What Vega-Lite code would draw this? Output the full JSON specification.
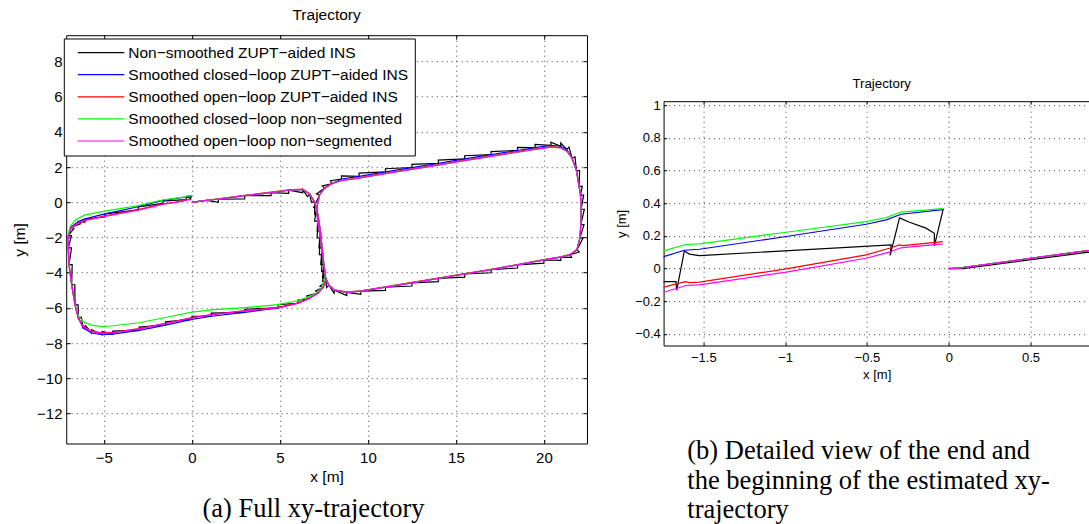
{
"$schema":"https://vega.github.io/schema/vega-lite/v6.json",
"padding":{"left":11.2,"top":7.2,"right":0,"bottom":0},
"spacing":27.4,
"datasets":{
"names":[
{"s":"k","name":"Non−smoothed ZUPT−aided INS"},
{"s":"b","name":"Smoothed closed−loop ZUPT−aided INS"},
{"s":"r","name":"Smoothed open−loop ZUPT−aided INS"},
{"s":"g","name":"Smoothed closed−loop non−segmented"},
{"s":"m","name":"Smoothed open−loop non−segmented"}],
"traj":[
{"s":"k","i":0,"x":0,"y":0},{"s":"k","i":1,"x":0.086,"y":0},{"s":"k","i":2,"x":0.854,"y":0.1},{"s":"k","i":3,"x":1.5,"y":-0.01},{"s":"k","i":4,"x":1.5,"y":0.17},{"s":"k","i":5,"x":3.0,"y":0.19},{"s":"k","i":6,"x":3.0,"y":0.37},{"s":"k","i":7,"x":4.5,"y":0.37},{"s":"k","i":8,"x":4.5,"y":0.55},{"s":"k","i":9,"x":5.5,"y":0.5},{"s":"k","i":10,"x":5.5,"y":0.68},{"s":"k","i":11,"x":6.3,"y":0.54},{"s":"k","i":12,"x":6.3,"y":0.72},{"s":"k","i":13,"x":6.57,"y":0.32},{"s":"k","i":14,"x":6.7,"y":0.45},{"s":"k","i":15,"x":6.79,"y":0},{"s":"k","i":16,"x":6.97,"y":0},{"s":"k","i":17,"x":6.98,"y":-0.7},{"s":"k","i":18,"x":7.16,"y":-0.7},{"s":"k","i":19,"x":7.12,"y":-1.65},{"s":"k","i":20,"x":7.3,"y":-1.65},{"s":"k","i":21,"x":7.22,"y":-2.6},{"s":"k","i":22,"x":7.4,"y":-2.6},{"s":"k","i":23,"x":7.32,"y":-3.55},{"s":"k","i":24,"x":7.5,"y":-3.55},{"s":"k","i":25,"x":7.42,"y":-4.3},{"s":"k","i":26,"x":7.6,"y":-4.3},{"s":"k","i":27,"x":7.65,"y":-4.85},{"s":"k","i":28,"x":7.78,"y":-4.72},{"s":"k","i":29,"x":8.08,"y":-5.18},{"s":"k","i":30,"x":8.1,"y":-5.0},{"s":"k","i":31,"x":8.8,"y":-5.3},{"s":"k","i":32,"x":8.8,"y":-5.12},{"s":"k","i":33,"x":9.6,"y":-5.23},{"s":"k","i":34,"x":9.6,"y":-5.05},{"s":"k","i":35,"x":11,"y":-5.01},{"s":"k","i":36,"x":11,"y":-4.83},{"s":"k","i":37,"x":12.5,"y":-4.76},{"s":"k","i":38,"x":12.5,"y":-4.58},{"s":"k","i":39,"x":14,"y":-4.51},{"s":"k","i":40,"x":14,"y":-4.33},{"s":"k","i":41,"x":15.5,"y":-4.26},{"s":"k","i":42,"x":15.5,"y":-4.08},{"s":"k","i":43,"x":17,"y":-4.01},{"s":"k","i":44,"x":17,"y":-3.83},{"s":"k","i":45,"x":18.5,"y":-3.74},{"s":"k","i":46,"x":18.5,"y":-3.56},{"s":"k","i":47,"x":20,"y":-3.46},{"s":"k","i":48,"x":20,"y":-3.28},{"s":"k","i":49,"x":20.96,"y":-3.3},{"s":"k","i":50,"x":20.96,"y":-3.12},{"s":"k","i":51,"x":21.57,"y":-3.14},{"s":"k","i":52,"x":21.5,"y":-2.98},{"s":"k","i":53,"x":22.01,"y":-2.83},{"s":"k","i":54,"x":21.88,"y":-2.7},{"s":"k","i":55,"x":22.23,"y":-2.03},{"s":"k","i":56,"x":22.05,"y":-2.03},{"s":"k","i":57,"x":22.28,"y":-1.27},{"s":"k","i":58,"x":22.1,"y":-1.27},{"s":"k","i":59,"x":22.3,"y":-0.4},{"s":"k","i":60,"x":22.12,"y":-0.4},{"s":"k","i":61,"x":22.26,"y":0.4},{"s":"k","i":62,"x":22.08,"y":0.4},{"s":"k","i":63,"x":22.18,"y":0.9},{"s":"k","i":64,"x":22.0,"y":0.9},{"s":"k","i":65,"x":22.03,"y":1.8},{"s":"k","i":66,"x":21.85,"y":1.8},{"s":"k","i":67,"x":21.77,"y":2.57},{"s":"k","i":68,"x":21.6,"y":2.5},{"s":"k","i":69,"x":21.43,"y":3.13},{"s":"k","i":70,"x":21.3,"y":3.0},{"s":"k","i":71,"x":20.96,"y":3.36},{"s":"k","i":72,"x":20.96,"y":3.18},{"s":"k","i":73,"x":20.4,"y":3.41},{"s":"k","i":74,"x":20.4,"y":3.23},{"s":"k","i":75,"x":19.5,"y":3.28},{"s":"k","i":76,"x":19.5,"y":3.1},{"s":"k","i":77,"x":18.5,"y":3.12},{"s":"k","i":78,"x":18.5,"y":2.94},{"s":"k","i":79,"x":17,"y":2.88},{"s":"k","i":80,"x":17,"y":2.7},{"s":"k","i":81,"x":15.5,"y":2.64},{"s":"k","i":82,"x":15.5,"y":2.46},{"s":"k","i":83,"x":14,"y":2.39},{"s":"k","i":84,"x":14,"y":2.21},{"s":"k","i":85,"x":12.5,"y":2.15},{"s":"k","i":86,"x":12.5,"y":1.97},{"s":"k","i":87,"x":11,"y":1.9},{"s":"k","i":88,"x":11,"y":1.72},{"s":"k","i":89,"x":9.5,"y":1.65},{"s":"k","i":90,"x":9.5,"y":1.47},{"s":"k","i":91,"x":8.5,"y":1.5},{"s":"k","i":92,"x":8.5,"y":1.32},{"s":"k","i":93,"x":7.88,"y":1.22},{"s":"k","i":94,"x":7.95,"y":1.05},{"s":"k","i":95,"x":7.41,"y":0.93},{"s":"k","i":96,"x":7.54,"y":0.8},{"s":"k","i":97,"x":7.08,"y":0.47},{"s":"k","i":98,"x":7.25,"y":0.4},{"s":"k","i":99,"x":6.92,"y":-0.3},{"s":"k","i":100,"x":7.1,"y":-0.3},{"s":"k","i":101,"x":6.97,"y":-1.08},{"s":"k","i":102,"x":7.15,"y":-1.08},{"s":"k","i":103,"x":7.12,"y":-2.03},{"s":"k","i":104,"x":7.3,"y":-2.03},{"s":"k","i":105,"x":7.24,"y":-2.98},{"s":"k","i":106,"x":7.42,"y":-2.98},{"s":"k","i":107,"x":7.37,"y":-3.93},{"s":"k","i":108,"x":7.55,"y":-3.93},{"s":"k","i":109,"x":7.42,"y":-4.5},{"s":"k","i":110,"x":7.6,"y":-4.5},{"s":"k","i":111,"x":7.28,"y":-4.78},{"s":"k","i":112,"x":7.45,"y":-4.85},{"s":"k","i":113,"x":7.03,"y":-5.04},{"s":"k","i":114,"x":7.16,"y":-5.17},{"s":"k","i":115,"x":6.53,"y":-5.33},{"s":"k","i":116,"x":6.6,"y":-5.5},{"s":"k","i":117,"x":6.03,"y":-5.56},{"s":"k","i":118,"x":6.03,"y":-5.74},{"s":"k","i":119,"x":4.9,"y":-5.82},{"s":"k","i":120,"x":4.9,"y":-6.0},{"s":"k","i":121,"x":3.0,"y":-6.08},{"s":"k","i":122,"x":3.0,"y":-6.26},{"s":"k","i":123,"x":1.1,"y":-6.3},{"s":"k","i":124,"x":1.1,"y":-6.48},{"s":"k","i":125,"x":0,"y":-6.48},{"s":"k","i":126,"x":0,"y":-6.66},{"s":"k","i":127,"x":-1.5,"y":-6.8},{"s":"k","i":128,"x":-1.5,"y":-6.98},{"s":"k","i":129,"x":-3.0,"y":-7.1},{"s":"k","i":130,"x":-3.0,"y":-7.28},{"s":"k","i":131,"x":-4.5,"y":-7.32},{"s":"k","i":132,"x":-4.5,"y":-7.5},{"s":"k","i":133,"x":-5.1,"y":-7.35},{"s":"k","i":134,"x":-5.1,"y":-7.53},{"s":"k","i":135,"x":-5.7,"y":-7.25},{"s":"k","i":136,"x":-5.7,"y":-7.43},{"s":"k","i":137,"x":-6.04,"y":-7.02},{"s":"k","i":138,"x":-6.17,"y":-7.15},{"s":"k","i":139,"x":-6.28,"y":-6.53},{"s":"k","i":140,"x":-6.45,"y":-6.6},{"s":"k","i":141,"x":-6.46,"y":-5.83},{"s":"k","i":142,"x":-6.64,"y":-5.83},{"s":"k","i":143,"x":-6.65,"y":-4.69},{"s":"k","i":144,"x":-6.83,"y":-4.69},{"s":"k","i":145,"x":-6.8,"y":-3.55},{"s":"k","i":146,"x":-6.98,"y":-3.55},{"s":"k","i":147,"x":-6.84,"y":-2.6},{"s":"k","i":148,"x":-7.02,"y":-2.6},{"s":"k","i":149,"x":-6.84,"y":-1.9},{"s":"k","i":150,"x":-7.02,"y":-1.9},{"s":"k","i":151,"x":-6.7,"y":-1.49},{"s":"k","i":152,"x":-6.87,"y":-1.42},{"s":"k","i":153,"x":-6.32,"y":-1.23},{"s":"k","i":154,"x":-6.45,"y":-1.1},{"s":"k","i":155,"x":-6.07,"y":-1.13},{"s":"k","i":156,"x":-6.07,"y":-0.95},{"s":"k","i":157,"x":-4.94,"y":-0.84},{"s":"k","i":158,"x":-4.94,"y":-0.66},{"s":"k","i":159,"x":-3.05,"y":-0.44},{"s":"k","i":160,"x":-3.05,"y":-0.26},{"s":"k","i":161,"x":-1.742,"y":-0.08},{"s":"k","i":162,"x":-1.667,"y":-0.08},{"s":"k","i":163,"x":-1.663,"y":-0.133},{"s":"k","i":164,"x":-1.616,"y":0.108},{"s":"k","i":165,"x":-1.585,"y":0.088},{"s":"k","i":166,"x":-1.524,"y":0.079},{"s":"k","i":167,"x":-0.352,"y":0.145},{"s":"k","i":168,"x":-0.358,"y":0.08},{"s":"k","i":169,"x":-0.301,"y":0.31},{"s":"k","i":170,"x":-0.24,"y":0.283},{"s":"k","i":171,"x":-0.139,"y":0.247},{"s":"k","i":172,"x":-0.088,"y":0.216},{"s":"k","i":173,"x":-0.088,"y":0.139},{"s":"k","i":174,"x":-0.033,"y":0.367},
{"s":"b","i":0,"x":0,"y":0},{"s":"b","i":1,"x":0.086,"y":0.006},{"s":"b","i":2,"x":0.85,"y":0.11},{"s":"b","i":3,"x":1.5,"y":0.17},{"s":"b","i":4,"x":3.0,"y":0.37},{"s":"b","i":5,"x":4.5,"y":0.55},{"s":"b","i":6,"x":5.5,"y":0.68},{"s":"b","i":7,"x":6.3,"y":0.72},{"s":"b","i":8,"x":6.7,"y":0.45},{"s":"b","i":9,"x":6.97,"y":0},{"s":"b","i":10,"x":7.16,"y":-0.7},{"s":"b","i":11,"x":7.3,"y":-1.65},{"s":"b","i":12,"x":7.4,"y":-2.6},{"s":"b","i":13,"x":7.5,"y":-3.55},{"s":"b","i":14,"x":7.6,"y":-4.3},{"s":"b","i":15,"x":7.78,"y":-4.72},{"s":"b","i":16,"x":8.1,"y":-5.0},{"s":"b","i":17,"x":8.8,"y":-5.12},{"s":"b","i":18,"x":9.6,"y":-5.05},{"s":"b","i":19,"x":11,"y":-4.83},{"s":"b","i":20,"x":12.5,"y":-4.58},{"s":"b","i":21,"x":14,"y":-4.33},{"s":"b","i":22,"x":15.5,"y":-4.08},{"s":"b","i":23,"x":17,"y":-3.83},{"s":"b","i":24,"x":18.5,"y":-3.56},{"s":"b","i":25,"x":20,"y":-3.28},{"s":"b","i":26,"x":20.96,"y":-3.12},{"s":"b","i":27,"x":21.5,"y":-2.98},{"s":"b","i":28,"x":21.88,"y":-2.7},{"s":"b","i":29,"x":22.05,"y":-2.03},{"s":"b","i":30,"x":22.1,"y":-1.27},{"s":"b","i":31,"x":22.12,"y":-0.4},{"s":"b","i":32,"x":22.08,"y":0.4},{"s":"b","i":33,"x":22.0,"y":0.9},{"s":"b","i":34,"x":21.85,"y":1.8},{"s":"b","i":35,"x":21.6,"y":2.5},{"s":"b","i":36,"x":21.3,"y":3.0},{"s":"b","i":37,"x":20.96,"y":3.18},{"s":"b","i":38,"x":20.4,"y":3.23},{"s":"b","i":39,"x":19.5,"y":3.1},{"s":"b","i":40,"x":18.5,"y":2.94},{"s":"b","i":41,"x":17,"y":2.7},{"s":"b","i":42,"x":15.5,"y":2.46},{"s":"b","i":43,"x":14,"y":2.21},{"s":"b","i":44,"x":12.5,"y":1.97},{"s":"b","i":45,"x":11,"y":1.72},{"s":"b","i":46,"x":9.5,"y":1.47},{"s":"b","i":47,"x":8.5,"y":1.32},{"s":"b","i":48,"x":7.95,"y":1.05},{"s":"b","i":49,"x":7.54,"y":0.8},{"s":"b","i":50,"x":7.25,"y":0.4},{"s":"b","i":51,"x":7.1,"y":-0.3},{"s":"b","i":52,"x":7.15,"y":-1.08},{"s":"b","i":53,"x":7.3,"y":-2.03},{"s":"b","i":54,"x":7.42,"y":-2.98},{"s":"b","i":55,"x":7.55,"y":-3.93},{"s":"b","i":56,"x":7.6,"y":-4.5},{"s":"b","i":57,"x":7.45,"y":-4.85},{"s":"b","i":58,"x":7.16,"y":-5.17},{"s":"b","i":59,"x":6.6,"y":-5.5},{"s":"b","i":60,"x":6.03,"y":-5.74},{"s":"b","i":61,"x":4.9,"y":-6.0},{"s":"b","i":62,"x":3.0,"y":-6.26},{"s":"b","i":63,"x":1.1,"y":-6.48},{"s":"b","i":64,"x":0,"y":-6.66},{"s":"b","i":65,"x":-1.5,"y":-6.98},{"s":"b","i":66,"x":-3.0,"y":-7.28},{"s":"b","i":67,"x":-4.5,"y":-7.5},{"s":"b","i":68,"x":-5.1,"y":-7.53},{"s":"b","i":69,"x":-5.7,"y":-7.43},{"s":"b","i":70,"x":-6.17,"y":-7.15},{"s":"b","i":71,"x":-6.45,"y":-6.6},{"s":"b","i":72,"x":-6.64,"y":-5.83},{"s":"b","i":73,"x":-6.83,"y":-4.69},{"s":"b","i":74,"x":-6.98,"y":-3.55},{"s":"b","i":75,"x":-7.02,"y":-2.6},{"s":"b","i":76,"x":-7.02,"y":-1.9},{"s":"b","i":77,"x":-6.87,"y":-1.42},{"s":"b","i":78,"x":-6.45,"y":-1.1},{"s":"b","i":79,"x":-6.07,"y":-0.95},{"s":"b","i":80,"x":-4.94,"y":-0.66},{"s":"b","i":81,"x":-3.05,"y":-0.26},{"s":"b","i":82,"x":-1.9,"y":0.04},{"s":"b","i":83,"x":-1.742,"y":0.073},{"s":"b","i":84,"x":-1.616,"y":0.112},{"s":"b","i":85,"x":-1.524,"y":0.118},{"s":"b","i":86,"x":-0.994,"y":0.196},{"s":"b","i":87,"x":-0.505,"y":0.271},{"s":"b","i":88,"x":-0.383,"y":0.298},{"s":"b","i":89,"x":-0.291,"y":0.332},{"s":"b","i":90,"x":-0.037,"y":0.361},
{"s":"r","i":0,"x":0,"y":0},{"s":"r","i":1,"x":0.086,"y":0.006},{"s":"r","i":2,"x":0.85,"y":0.11},{"s":"r","i":3,"x":1.5,"y":0.19},{"s":"r","i":4,"x":3.0,"y":0.39},{"s":"r","i":5,"x":4.5,"y":0.57},{"s":"r","i":6,"x":5.5,"y":0.7},{"s":"r","i":7,"x":6.3,"y":0.74},{"s":"r","i":8,"x":6.7,"y":0.47},{"s":"r","i":9,"x":6.97,"y":0.02},{"s":"r","i":10,"x":7.16,"y":-0.68},{"s":"r","i":11,"x":7.3,"y":-1.63},{"s":"r","i":12,"x":7.4,"y":-2.58},{"s":"r","i":13,"x":7.5,"y":-3.53},{"s":"r","i":14,"x":7.6,"y":-4.28},{"s":"r","i":15,"x":7.78,"y":-4.7},{"s":"r","i":16,"x":8.1,"y":-4.98},{"s":"r","i":17,"x":8.8,"y":-5.1},{"s":"r","i":18,"x":9.6,"y":-5.03},{"s":"r","i":19,"x":11,"y":-4.81},{"s":"r","i":20,"x":12.5,"y":-4.56},{"s":"r","i":21,"x":14,"y":-4.31},{"s":"r","i":22,"x":15.5,"y":-4.06},{"s":"r","i":23,"x":17,"y":-3.81},{"s":"r","i":24,"x":18.5,"y":-3.54},{"s":"r","i":25,"x":20,"y":-3.26},{"s":"r","i":26,"x":20.96,"y":-3.1},{"s":"r","i":27,"x":21.5,"y":-2.96},{"s":"r","i":28,"x":21.88,"y":-2.68},{"s":"r","i":29,"x":22.05,"y":-2.01},{"s":"r","i":30,"x":22.1,"y":-1.25},{"s":"r","i":31,"x":22.12,"y":-0.38},{"s":"r","i":32,"x":22.08,"y":0.42},{"s":"r","i":33,"x":22.0,"y":0.92},{"s":"r","i":34,"x":21.85,"y":1.82},{"s":"r","i":35,"x":21.6,"y":2.52},{"s":"r","i":36,"x":21.3,"y":2.93},{"s":"r","i":37,"x":20.96,"y":3.11},{"s":"r","i":38,"x":20.4,"y":3.16},{"s":"r","i":39,"x":19.5,"y":3.03},{"s":"r","i":40,"x":18.5,"y":2.87},{"s":"r","i":41,"x":17,"y":2.63},{"s":"r","i":42,"x":15.5,"y":2.39},{"s":"r","i":43,"x":14,"y":2.14},{"s":"r","i":44,"x":12.5,"y":1.9},{"s":"r","i":45,"x":11,"y":1.65},{"s":"r","i":46,"x":9.5,"y":1.4},{"s":"r","i":47,"x":8.5,"y":1.25},{"s":"r","i":48,"x":7.95,"y":1.07},{"s":"r","i":49,"x":7.54,"y":0.82},{"s":"r","i":50,"x":7.25,"y":0.42},{"s":"r","i":51,"x":7.1,"y":-0.28},{"s":"r","i":52,"x":7.15,"y":-1.06},{"s":"r","i":53,"x":7.3,"y":-2.01},{"s":"r","i":54,"x":7.42,"y":-2.96},{"s":"r","i":55,"x":7.55,"y":-3.91},{"s":"r","i":56,"x":7.6,"y":-4.48},{"s":"r","i":57,"x":7.45,"y":-4.83},{"s":"r","i":58,"x":7.16,"y":-5.15},{"s":"r","i":59,"x":6.6,"y":-5.48},{"s":"r","i":60,"x":6.03,"y":-5.72},{"s":"r","i":61,"x":4.9,"y":-5.98},{"s":"r","i":62,"x":3.0,"y":-6.16},{"s":"r","i":63,"x":1.1,"y":-6.38},{"s":"r","i":64,"x":0,"y":-6.56},{"s":"r","i":65,"x":-1.5,"y":-6.88},{"s":"r","i":66,"x":-3.0,"y":-7.18},{"s":"r","i":67,"x":-4.5,"y":-7.4},{"s":"r","i":68,"x":-5.1,"y":-7.43},{"s":"r","i":69,"x":-5.7,"y":-7.33},{"s":"r","i":70,"x":-6.17,"y":-7.05},{"s":"r","i":71,"x":-6.45,"y":-6.58},{"s":"r","i":72,"x":-6.64,"y":-5.81},{"s":"r","i":73,"x":-6.83,"y":-4.67},{"s":"r","i":74,"x":-6.98,"y":-3.53},{"s":"r","i":75,"x":-7.02,"y":-2.58},{"s":"r","i":76,"x":-7.02,"y":-1.92},{"s":"r","i":77,"x":-6.87,"y":-1.44},{"s":"r","i":78,"x":-6.45,"y":-1.16},{"s":"r","i":79,"x":-6.07,"y":-1.02},{"s":"r","i":80,"x":-4.94,"y":-0.78},{"s":"r","i":81,"x":-3.05,"y":-0.42},{"s":"r","i":82,"x":-1.9,"y":-0.15},{"s":"r","i":83,"x":-1.742,"y":-0.114},{"s":"r","i":84,"x":-1.61,"y":-0.08},{"s":"r","i":85,"x":-1.585,"y":-0.086},{"s":"r","i":86,"x":-1.524,"y":-0.083},{"s":"r","i":87,"x":-0.994,"y":-0.002},{"s":"r","i":88,"x":-0.505,"y":0.084},{"s":"r","i":89,"x":-0.363,"y":0.124},{"s":"r","i":90,"x":-0.302,"y":0.145},{"s":"r","i":91,"x":-0.28,"y":0.14},{"s":"r","i":92,"x":-0.037,"y":0.165},
{"s":"g","i":0,"x":0,"y":0},{"s":"g","i":1,"x":0.086,"y":0.006},{"s":"g","i":2,"x":0.85,"y":0.11},{"s":"g","i":3,"x":1.5,"y":0.17},{"s":"g","i":4,"x":3.0,"y":0.37},{"s":"g","i":5,"x":4.5,"y":0.55},{"s":"g","i":6,"x":5.5,"y":0.68},{"s":"g","i":7,"x":6.3,"y":0.72},{"s":"g","i":8,"x":6.7,"y":0.45},{"s":"g","i":9,"x":6.97,"y":0},{"s":"g","i":10,"x":7.16,"y":-0.7},{"s":"g","i":11,"x":7.3,"y":-1.65},{"s":"g","i":12,"x":7.4,"y":-2.6},{"s":"g","i":13,"x":7.5,"y":-3.55},{"s":"g","i":14,"x":7.6,"y":-4.3},{"s":"g","i":15,"x":7.78,"y":-4.72},{"s":"g","i":16,"x":8.1,"y":-5.0},{"s":"g","i":17,"x":8.8,"y":-5.12},{"s":"g","i":18,"x":9.6,"y":-5.05},{"s":"g","i":19,"x":11,"y":-4.83},{"s":"g","i":20,"x":12.5,"y":-4.58},{"s":"g","i":21,"x":14,"y":-4.33},{"s":"g","i":22,"x":15.5,"y":-4.08},{"s":"g","i":23,"x":17,"y":-3.83},{"s":"g","i":24,"x":18.5,"y":-3.56},{"s":"g","i":25,"x":20,"y":-3.28},{"s":"g","i":26,"x":20.96,"y":-3.12},{"s":"g","i":27,"x":21.5,"y":-2.98},{"s":"g","i":28,"x":21.88,"y":-2.7},{"s":"g","i":29,"x":22.05,"y":-2.03},{"s":"g","i":30,"x":22.1,"y":-1.27},{"s":"g","i":31,"x":22.12,"y":-0.4},{"s":"g","i":32,"x":22.08,"y":0.4},{"s":"g","i":33,"x":22.0,"y":0.9},{"s":"g","i":34,"x":21.85,"y":1.8},{"s":"g","i":35,"x":21.6,"y":2.5},{"s":"g","i":36,"x":21.3,"y":2.9},{"s":"g","i":37,"x":20.96,"y":3.08},{"s":"g","i":38,"x":20.4,"y":3.13},{"s":"g","i":39,"x":19.5,"y":3.0},{"s":"g","i":40,"x":18.5,"y":2.84},{"s":"g","i":41,"x":17,"y":2.6},{"s":"g","i":42,"x":15.5,"y":2.36},{"s":"g","i":43,"x":14,"y":2.11},{"s":"g","i":44,"x":12.5,"y":1.87},{"s":"g","i":45,"x":11,"y":1.62},{"s":"g","i":46,"x":9.5,"y":1.37},{"s":"g","i":47,"x":8.5,"y":1.22},{"s":"g","i":48,"x":7.95,"y":1.05},{"s":"g","i":49,"x":7.54,"y":0.8},{"s":"g","i":50,"x":7.25,"y":0.4},{"s":"g","i":51,"x":7.1,"y":-0.3},{"s":"g","i":52,"x":7.15,"y":-1.08},{"s":"g","i":53,"x":7.3,"y":-2.03},{"s":"g","i":54,"x":7.42,"y":-2.98},{"s":"g","i":55,"x":7.55,"y":-3.93},{"s":"g","i":56,"x":7.55,"y":-4.4},{"s":"g","i":57,"x":7.35,"y":-4.9},{"s":"g","i":58,"x":7.0,"y":-5.22},{"s":"g","i":59,"x":6.5,"y":-5.42},{"s":"g","i":60,"x":6.0,"y":-5.6},{"s":"g","i":61,"x":4.9,"y":-5.82},{"s":"g","i":62,"x":3.0,"y":-5.99},{"s":"g","i":63,"x":1.1,"y":-6.12},{"s":"g","i":64,"x":0,"y":-6.25},{"s":"g","i":65,"x":-1.5,"y":-6.55},{"s":"g","i":66,"x":-3.0,"y":-6.85},{"s":"g","i":67,"x":-4.5,"y":-7.02},{"s":"g","i":68,"x":-5.1,"y":-7.07},{"s":"g","i":69,"x":-5.7,"y":-6.98},{"s":"g","i":70,"x":-6.17,"y":-6.8},{"s":"g","i":71,"x":-6.45,"y":-6.45},{"s":"g","i":72,"x":-6.64,"y":-5.83},{"s":"g","i":73,"x":-6.83,"y":-4.69},{"s":"g","i":74,"x":-6.98,"y":-3.55},{"s":"g","i":75,"x":-7.02,"y":-2.6},{"s":"g","i":76,"x":-7.02,"y":-1.8},{"s":"g","i":77,"x":-6.9,"y":-1.35},{"s":"g","i":78,"x":-6.6,"y":-1.0},{"s":"g","i":79,"x":-6.07,"y":-0.72},{"s":"g","i":80,"x":-4.94,"y":-0.51},{"s":"g","i":81,"x":-3.05,"y":-0.19},{"s":"g","i":82,"x":-1.9,"y":0.072},{"s":"g","i":83,"x":-1.742,"y":0.108},{"s":"g","i":84,"x":-1.61,"y":0.147},{"s":"g","i":85,"x":-1.524,"y":0.151},{"s":"g","i":86,"x":-0.994,"y":0.222},{"s":"g","i":87,"x":-0.505,"y":0.287},{"s":"g","i":88,"x":-0.383,"y":0.312},{"s":"g","i":89,"x":-0.291,"y":0.345},{"s":"g","i":90,"x":-0.037,"y":0.367},
{"s":"m","i":0,"x":0,"y":0},{"s":"m","i":1,"x":0.086,"y":0.006},{"s":"m","i":2,"x":0.85,"y":0.11},{"s":"m","i":3,"x":1.5,"y":0.17},{"s":"m","i":4,"x":3.0,"y":0.37},{"s":"m","i":5,"x":4.5,"y":0.55},{"s":"m","i":6,"x":5.5,"y":0.68},{"s":"m","i":7,"x":6.3,"y":0.72},{"s":"m","i":8,"x":6.7,"y":0.45},{"s":"m","i":9,"x":6.97,"y":0},{"s":"m","i":10,"x":7.16,"y":-0.7},{"s":"m","i":11,"x":7.3,"y":-1.65},{"s":"m","i":12,"x":7.4,"y":-2.6},{"s":"m","i":13,"x":7.5,"y":-3.55},{"s":"m","i":14,"x":7.6,"y":-4.3},{"s":"m","i":15,"x":7.78,"y":-4.72},{"s":"m","i":16,"x":8.1,"y":-5.0},{"s":"m","i":17,"x":8.8,"y":-5.12},{"s":"m","i":18,"x":9.6,"y":-5.05},{"s":"m","i":19,"x":11,"y":-4.83},{"s":"m","i":20,"x":12.5,"y":-4.58},{"s":"m","i":21,"x":14,"y":-4.33},{"s":"m","i":22,"x":15.5,"y":-4.08},{"s":"m","i":23,"x":17,"y":-3.83},{"s":"m","i":24,"x":18.5,"y":-3.56},{"s":"m","i":25,"x":20,"y":-3.28},{"s":"m","i":26,"x":20.96,"y":-3.12},{"s":"m","i":27,"x":21.5,"y":-2.98},{"s":"m","i":28,"x":21.88,"y":-2.7},{"s":"m","i":29,"x":22.05,"y":-2.03},{"s":"m","i":30,"x":22.1,"y":-1.27},{"s":"m","i":31,"x":22.12,"y":-0.4},{"s":"m","i":32,"x":22.08,"y":0.4},{"s":"m","i":33,"x":22.0,"y":0.9},{"s":"m","i":34,"x":21.85,"y":1.8},{"s":"m","i":35,"x":21.6,"y":2.5},{"s":"m","i":36,"x":21.3,"y":2.9},{"s":"m","i":37,"x":20.96,"y":3.08},{"s":"m","i":38,"x":20.4,"y":3.13},{"s":"m","i":39,"x":19.5,"y":3.0},{"s":"m","i":40,"x":18.5,"y":2.84},{"s":"m","i":41,"x":17,"y":2.6},{"s":"m","i":42,"x":15.5,"y":2.36},{"s":"m","i":43,"x":14,"y":2.11},{"s":"m","i":44,"x":12.5,"y":1.87},{"s":"m","i":45,"x":11,"y":1.62},{"s":"m","i":46,"x":9.5,"y":1.37},{"s":"m","i":47,"x":8.5,"y":1.22},{"s":"m","i":48,"x":7.95,"y":1.05},{"s":"m","i":49,"x":7.54,"y":0.8},{"s":"m","i":50,"x":7.25,"y":0.4},{"s":"m","i":51,"x":7.1,"y":-0.3},{"s":"m","i":52,"x":7.15,"y":-1.08},{"s":"m","i":53,"x":7.3,"y":-2.03},{"s":"m","i":54,"x":7.42,"y":-2.98},{"s":"m","i":55,"x":7.55,"y":-3.93},{"s":"m","i":56,"x":7.6,"y":-4.5},{"s":"m","i":57,"x":7.45,"y":-4.85},{"s":"m","i":58,"x":7.16,"y":-5.17},{"s":"m","i":59,"x":6.6,"y":-5.5},{"s":"m","i":60,"x":6.03,"y":-5.74},{"s":"m","i":61,"x":4.9,"y":-6.0},{"s":"m","i":62,"x":3.0,"y":-6.18},{"s":"m","i":63,"x":1.1,"y":-6.4},{"s":"m","i":64,"x":0,"y":-6.58},{"s":"m","i":65,"x":-1.5,"y":-6.9},{"s":"m","i":66,"x":-3.0,"y":-7.2},{"s":"m","i":67,"x":-4.5,"y":-7.42},{"s":"m","i":68,"x":-5.1,"y":-7.45},{"s":"m","i":69,"x":-5.7,"y":-7.35},{"s":"m","i":70,"x":-6.17,"y":-7.07},{"s":"m","i":71,"x":-6.45,"y":-6.6},{"s":"m","i":72,"x":-6.64,"y":-5.83},{"s":"m","i":73,"x":-6.83,"y":-4.69},{"s":"m","i":74,"x":-6.98,"y":-3.55},{"s":"m","i":75,"x":-7.02,"y":-2.6},{"s":"m","i":76,"x":-7.02,"y":-1.94},{"s":"m","i":77,"x":-6.87,"y":-1.46},{"s":"m","i":78,"x":-6.45,"y":-1.18},{"s":"m","i":79,"x":-6.07,"y":-1.04},{"s":"m","i":80,"x":-4.94,"y":-0.8},{"s":"m","i":81,"x":-3.05,"y":-0.45},{"s":"m","i":82,"x":-1.9,"y":-0.18},{"s":"m","i":83,"x":-1.742,"y":-0.145},{"s":"m","i":84,"x":-1.606,"y":-0.104},{"s":"m","i":85,"x":-1.524,"y":-0.1},{"s":"m","i":86,"x":-0.994,"y":-0.022},{"s":"m","i":87,"x":-0.505,"y":0.063},{"s":"m","i":88,"x":-0.363,"y":0.1},{"s":"m","i":89,"x":-0.302,"y":0.124},{"s":"m","i":90,"x":-0.28,"y":0.128},{"s":"m","i":91,"x":-0.037,"y":0.151}
]},
"hconcat":[
{"vconcat":[
 {"width":520.8,"height":408.3,
  "title":{"text":"Trajectory","fontSize":15.5,"baseline":"alphabetic","offset":-0.9},
  "layer":[
   {"data":{"name":"traj"},
    "transform":[{"lookup":"s","from":{"data":{"name":"names"},"key":"s","fields":["name"]}}],
    "mark":{"type":"line","strokeWidth":1.2,"clip":true},
    "encoding":{
     "x":{"field":"x","type":"quantitative","scale":{"domain":[-7.14,22.45],"nice":false,"zero":false},
          "axis":{"orient":"bottom","values":[-5,0,5,10,15,20],"format":"~g","title":"x [m]","grid":true,"tickSize":-4,"labelPadding":10.9,"titlePadding":4.3,"labelFontSize":15,"titleFontSize":15.5}},
     "y":{"field":"y","type":"quantitative","scale":{"domain":[-13.71,9.49],"nice":false,"zero":false},
          "axis":{"orient":"left","values":[-12,-10,-8,-6,-4,-2,0,2,4,6,8],"format":"~g","title":"y [m]","grid":true,"tickSize":-4,"labelPadding":8.2,"titlePadding":9.4,"labelFontSize":15,"titleFontSize":15.5}},
     "color":{"field":"name","type":"nominal",
      "scale":{"domain":["Non−smoothed ZUPT−aided INS","Smoothed closed−loop ZUPT−aided INS","Smoothed open−loop ZUPT−aided INS","Smoothed closed−loop non−segmented","Smoothed open−loop non−segmented"],"range":["#000000","#0000ff","#ff0000","#00ff00","#ff00ff"]},
      "legend":{"orient":"none","legendX":-2.4,"legendY":3.3,"title":null,"symbolType":"M-1,0H5.2","symbolSize":225,"symbolStrokeWidth":1.2,"labelFontSize":15.5,"labelFont":"Liberation Sans","labelColor":"#000000","labelLimit":400,"fillColor":"#ffffff","strokeColor":"#000000","padding":5.6,"rowPadding":5.1,"labelOffset":34.5,"symbolOffset":7.4}},
     "order":{"field":"i","type":"quantitative"}}},
   {"data":{"values":[]},"mark":"point",
    "encoding":{
     "x":{"field":"x","type":"quantitative","axis":{"orient":"top","values":[-5,0,5,10,15,20],"labels":false,"title":null,"grid":false,"tickSize":-4}},
     "y":{"field":"y","type":"quantitative","axis":{"orient":"right","values":[-12,-10,-8,-6,-4,-2,0,2,4,6,8],"labels":false,"title":null,"grid":false,"tickSize":-4}}}}
  ],
  "resolve":{"axis":{"x":"independent","y":"independent"}}
 }],
 "title":{"text":"(a) Full xy-trajectory","orient":"bottom","font":"Liberation Serif","fontSize":26.5,"baseline":"top","offset":11,"anchor":"middle","frame":"group","dx":247.3},
 "resolve":{"scale":{"color":"independent"},"legend":{"color":"independent"}}
},
{"vconcat":[
 {"width":10,"height":42,"data":{"values":[]},"mark":{"type":"point","opacity":0},"encoding":{}},
 {"width":426.2,"height":244.3,
  "title":{"text":"Trajectory","fontSize":13.3,"baseline":"alphabetic","offset":-2.5,"dx":5},
  "layer":[
   {"data":{"name":"traj"},
    "transform":[{"lookup":"s","from":{"data":{"name":"names"},"key":"s","fields":["name"]}}],
    "mark":{"type":"line","strokeWidth":1.2,"clip":true},
    "encoding":{
     "x":{"field":"x","type":"quantitative","scale":{"domain":[-1.743,0.862],"nice":false,"zero":false},
          "axis":{"orient":"bottom","values":[-1.5,-1,-0.5,0,0.5],"format":"~g","title":"x [m]","grid":true,"tickSize":-3,"labelPadding":9.1,"titlePadding":3.7,"labelFontSize":13,"titleFontSize":13}},
     "y":{"field":"y","type":"quantitative","scale":{"domain":[-0.471,1.024],"nice":false,"zero":false},
          "axis":{"orient":"left","values":[-0.4,-0.2,0,0.2,0.4,0.6,0.8,1],"format":"~g","title":"y [m]","grid":true,"tickSize":-3,"labelPadding":6.3,"titlePadding":6,"labelFontSize":13,"titleFontSize":13}},
     "color":{"field":"name","type":"nominal",
      "scale":{"domain":["Non−smoothed ZUPT−aided INS","Smoothed closed−loop ZUPT−aided INS","Smoothed open−loop ZUPT−aided INS","Smoothed closed−loop non−segmented","Smoothed open−loop non−segmented"],"range":["#000000","#0000ff","#ff0000","#00ff00","#ff00ff"]},
      "legend":null},
     "order":{"field":"i","type":"quantitative"}}},
   {"data":{"values":[]},"mark":"point",
    "encoding":{
     "x":{"field":"x","type":"quantitative","axis":{"orient":"top","values":[-1.5,-1,-0.5,0,0.5],"labels":false,"title":null,"grid":false,"tickSize":-3}}}}
  ],
  "resolve":{"axis":{"x":"independent","y":"independent"}}
 }],
 "spacing":0,
 "title":{"text":["(b) Detailed view of the end and","the beginning of the estimated xy-","trajectory"],"orient":"bottom","font":"Liberation Serif","fontSize":26.5,"baseline":"top","lineHeight":29.5,"offset":57,"anchor":"start","frame":"group","dx":23.7},
 "resolve":{"scale":{"color":"independent"},"legend":{"color":"independent"}}
}],
"resolve":{"scale":{"color":"independent"},"legend":{"color":"independent"}},
"config":{
 "font":"Liberation Sans",
 "view":{"stroke":null},
 "axis":{"domainColor":"#000000","tickColor":"#000000","labelColor":"#000000","titleColor":"#000000","titleFontWeight":"normal","labelFont":"Liberation Sans","titleFont":"Liberation Sans","gridColor":"#3a3a3a","gridDash":[1,4],"gridOpacity":1,"gridWidth":1,"domainWidth":1,"tickWidth":1,"labelFlush":false,"labelOverlap":false},
 "title":{"font":"Liberation Sans","fontWeight":"normal","color":"#000000"}
}
}
